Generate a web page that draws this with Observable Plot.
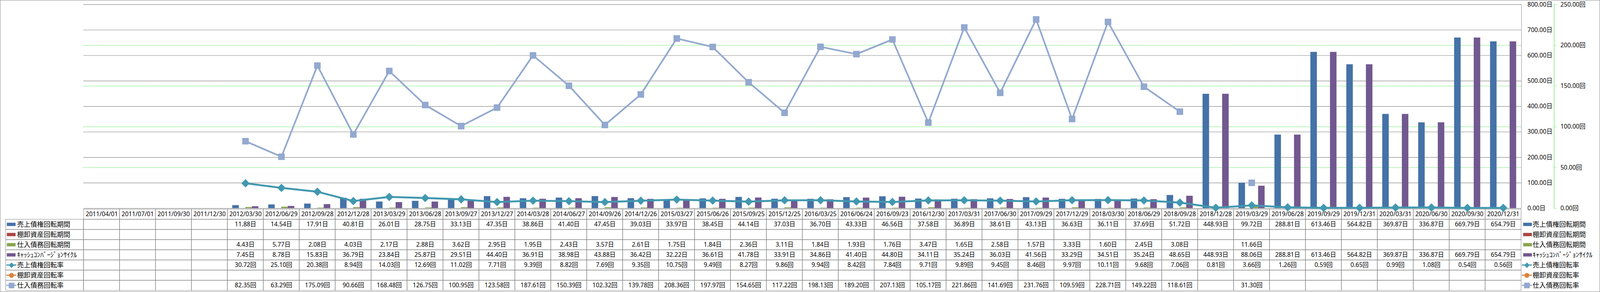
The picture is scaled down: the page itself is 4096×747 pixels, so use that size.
<!DOCTYPE html>
<html><head><meta charset="utf-8">
<script src="https://cdn.jsdelivr.net/npm/d3@7"></script>
<script src="https://cdn.jsdelivr.net/npm/@observablehq/plot@0.6"></script>
<style>
html,body{margin:0;padding:0;background:#fff;}
#wrap{position:relative;width:4096px;height:747px;overflow:hidden;background:#fff;}
#chart{position:absolute;left:0;top:0;z-index:2;}
#table{position:absolute;left:0;z-index:1;}
#border{position:absolute;left:0;top:0;width:4096px;height:747px;box-sizing:border-box;border:1px solid #888;z-index:3;pointer-events:none;}
</style></head><body>
<div id="wrap"><div id="table"></div><div id="chart"></div><div id="border"></div></div>
<script>
// ---------------- data ----------------
const dates = ["2011/04/01","2011/07/01","2011/09/30","2011/12/30",
  "2012/03/30","2012/06/29","2012/09/28","2012/12/28",
  "2013/03/29","2013/06/28","2013/09/27","2013/12/27",
  "2014/03/28","2014/06/27","2014/09/26","2014/12/26",
  "2015/03/27","2015/06/26","2015/09/25","2015/12/25",
  "2016/03/25","2016/06/24","2016/09/23","2016/12/30",
  "2017/03/31","2017/06/30","2017/09/29","2017/12/29",
  "2018/03/30","2018/06/29","2018/09/28","2018/12/28",
  "2019/03/29","2019/06/28","2019/09/29","2019/12/31",
  "2020/03/31","2020/06/30","2020/09/30","2020/12/31"];

const seriesNames = ["売上債権回転期間","棚卸資産回転期間","仕入債務回転期間","ｷｬｯｼｭｺﾝﾊﾞｰｼﾞｮﾝｻｲｸﾙ","売上債権回転率","棚卸資産回転率","仕入債務回転率"];
const seriesUnits = ["日","日","日","日","回","回","回"];
const seriesColors = ["#4572A7","#AA4643","#89A54E","#71588F","#4198AF","#DB843D","#93A9CF"];

const arDays = [null,null,null,null,
  11.88,14.54,17.91,40.81, 26.01,28.75,33.13,47.35, 38.86,41.40,47.45,39.03,
  33.97,38.45,44.14,37.03, 36.70,43.33,46.56,37.58, 36.89,38.61,43.13,36.63,
  36.11,37.69,51.72,448.93, 99.72,288.81,613.46,564.82, 369.87,336.87,669.79,654.79];
const invDays = [null,null,null,null, null,null,null,null, null,null,null,null, null,null,null,null,
  null,null,null,null, null,null,null,null, null,null,null,null, null,null,null,null,
  null,null,null,null, null,null,null,null];
const apDays = [null,null,null,null,
  4.43,5.77,2.08,4.03, 2.17,2.88,3.62,2.95, 1.95,2.43,3.57,2.61,
  1.75,1.84,2.36,3.11, 1.84,1.93,1.76,3.47, 1.65,2.58,1.57,3.33,
  1.60,2.45,3.08,null, 11.66,null,null,null, null,null,null,null];
const cccDays = [null,null,null,null,
  7.45,8.78,15.83,36.79, 23.84,25.87,29.51,44.40, 36.91,38.98,43.88,36.42,
  32.22,36.61,41.78,33.91, 34.86,41.40,44.80,34.11, 35.24,36.03,41.56,33.29,
  34.51,35.24,48.65,448.93, 88.06,288.81,613.46,564.82, 369.87,336.87,669.79,654.79];
const arTurn = [null,null,null,null,
  30.72,25.10,20.38,8.94, 14.03,12.69,11.02,7.71, 9.39,8.82,7.69,9.35,
  10.75,9.49,8.27,9.86, 9.94,8.42,7.84,9.71, 9.89,9.45,8.46,9.97,
  10.11,9.68,7.06,0.81, 3.66,1.26,0.59,0.65, 0.99,1.08,0.54,0.56];
const invTurn = [null,null,null,null, null,null,null,null, null,null,null,null, null,null,null,null,
  null,null,null,null, null,null,null,null, null,null,null,null, null,null,null,null,
  null,null,null,null, null,null,null,null];
const apTurn = [null,null,null,null,
  82.35,63.29,175.09,90.66, 168.48,126.75,100.95,123.58, 187.61,150.39,102.32,139.78,
  208.36,197.97,154.65,117.22, 198.13,189.20,207.13,105.17, 221.86,141.69,231.76,109.59,
  228.71,149.22,118.61,null, 31.30,null,null,null, null,null,null,null];

const dayTicks = [0,100,200,300,400,500,600,700,800];
const turnTicks = [0,50,100,150,200,250];

// ---------------- layout ----------------
const S = 0.697;
const W = 4096, H = 747;
const mL = 306*S, mR = (5876-5587)*S, mT = 16*S;
const chartH = 764*S;
const frameW = W - mL - mR;
const bw = frameW / dates.length;
const barW = bw * 24/132;
const groupStart = (bw - 4*barW)/2;
const turnToDays = dayTicks[dayTicks.length-1] / turnTicks[turnTicks.length-1];
const green = "#1fe01f";
const gridGray = "#858585";
const font = "'Noto Sans','Noto Sans CJK JP',sans-serif";
const cjk = "'Noto Sans CJK JP','Noto Sans',sans-serif";

const allValues = [arDays, invDays, apDays, cccDays, arTurn, invTurn, apTurn];
const series = allValues.map((vals, k) => dates.map((date, i) => ({date, k, value: vals[i]})));
const lineY = d => d.value == null ? NaN : d.value * turnToDays;

// ---------------- chart ----------------
const barMarks = [0,1,2,3].map(k => Plot.barY(series[k].filter(d => d.value != null), {
  x: "date", y: "value", fill: seriesColors[k],
  insetLeft: groupStart + k*barW, insetRight: bw - groupStart - (k+1)*barW
}));

const lineSpecs = [
  {k: 4, symbol: "diamond2", r: 9.6, sw: 7*S},
  {k: 5, symbol: "circle", r: 6.5, sw: 6*S},
  {k: 6, symbol: "square", r: 8.8, sw: 6*S}
];
const lineMarks = lineSpecs.flatMap(({k, symbol, r, sw}) => [
  Plot.line(series[k], {x: "date", y: lineY, stroke: seriesColors[k], strokeWidth: sw, strokeLinejoin: "round"}),
  Plot.dot(series[k].filter(d => d.value != null), {x: "date", y: lineY, symbol, r, fill: seriesColors[k], stroke: k === 6 ? "#8ea4cc" : "none", strokeWidth: 1})
]);

const chart = Plot.plot({
  width: W, height: chartH,
  marginLeft: mL, marginRight: mR, marginTop: mT, marginBottom: 0,
  x: {type: "band", domain: dates, padding: 0, axis: null},
  y: {domain: [0, 800]},
  style: {fontFamily: font, fontSize: "15.5px", background: "transparent", overflow: "visible", color: "#000"},
  marks: [
    Plot.gridY(dayTicks, {stroke: gridGray, strokeOpacity: 1, strokeWidth: 1.1}),
    Plot.gridY(turnTicks.slice(1, -1).map(t => t*turnToDays), {stroke: green, strokeOpacity: 1, strokeWidth: 1, strokeDasharray: "2.5,1.6"}),
    Plot.frame({anchor: "right", stroke: gridGray, strokeWidth: 1}),
    Plot.frame({anchor: "right", dx: (5707-5587)*S, stroke: green, strokeWidth: 1, strokeDasharray: "2.5,1.6"}),
    Plot.axisY({anchor: "right", ticks: dayTicks, tickFormat: d => d.toFixed(2) + "日", tickSize: 0, tickPadding: 22*S, label: null, fontSize: 15.5}),
    Plot.axisY({anchor: "right", dx: (5707-5587)*S, ticks: turnTicks.map(t => t*turnToDays), tickFormat: d => (d/turnToDays).toFixed(2) + "回",
      tickSize: 8*S, tickPadding: 15*S, stroke: green, strokeDasharray: "2.5,1.6", strokeOpacity: 1, label: null, fontSize: 15.5}),
    ...barMarks,
    ...lineMarks
  ]
});
document.getElementById("chart").appendChild(chart);

// ---------------- table ----------------
const dateRow = "__date__";
const rowKeys = [dateRow, ...seriesNames];
const rowH = 38.1*S;
const tableH = H - chartH;
const cellsAll = rowKeys.flatMap(row => dates.map(date => ({date, row})));
const valueCells = seriesNames.flatMap((name, k) => dates.map((date, i) => ({date, row: name, v: allValues[k][i], u: seriesUnits[k]}))).filter(c => c.v != null);
const legendRows = seriesNames.map((name, k) => ({name, k}));
const barLegend = legendRows.filter(d => d.k < 4);
const lineLegend = legendRows.filter(d => d.k >= 4);

const legendLeftX = (306-20.7)*S;
const symL0 = (306-25)*S, symL1 = (306-57)*S;      // bar symbols, left legend
const lnL0 = (306-23)*S, lnL1 = (306-60)*S;        // line symbols, left legend
const symR0 = (5594-5587)*S, symR1 = (5626-5587)*S; // right legend
const lnR0 = (5589-5587)*S, lnR1 = (5626-5587)*S;
const barSymInset = (rowH - 13*S)/2;
const lineSymInset = (rowH - 5*S)/2;

const legendDots = (anchorSide, dx) => lineSpecs.map(({k, symbol}) => Plot.dot(lineLegend.filter(d => d.k === k), {
  y: "name", frameAnchor: anchorSide, dx, symbol,
  r: symbol === "diamond2" ? 6.2 : symbol === "circle" ? 6.3 : 7.2,
  fill: seriesColors[k], stroke: k === 6 ? "#8ea4cc" : "none"
}));

const table = Plot.plot({
  width: W, height: tableH,
  marginLeft: mL, marginRight: mR, marginTop: 0, marginBottom: tableH - 8*rowH,
  x: {type: "band", domain: dates, padding: 0, axis: null},
  y: {type: "band", domain: rowKeys, padding: 0, axis: null},
  style: {fontFamily: font, fontSize: "15.5px", background: "transparent", overflow: "visible", color: "#000"},
  marks: [
    Plot.cell(cellsAll, {x: "date", y: "row", fill: "none", stroke: gridGray, strokeWidth: 1}),
    Plot.cell(legendRows, {y: "name", fill: "none", stroke: gridGray, strokeWidth: 1, insetLeft: -legendLeftX, insetRight: frameW}),
    Plot.text(dates, {x: d => d, y: () => dateRow, text: d => d, fontSize: 15.5}),
    Plot.text(valueCells, {x: "date", y: "row", text: c => c.v.toFixed(2) + c.u, fontSize: 15.5}),
    // left legend
    Plot.cell(barLegend, {y: "name", fill: d => seriesColors[d.k], insetLeft: -symL0, insetRight: frameW + symL1, insetTop: barSymInset, insetBottom: barSymInset}),
    Plot.cell(lineLegend, {y: "name", fill: d => seriesColors[d.k], insetLeft: -lnL0, insetRight: frameW + lnL1, insetTop: lineSymInset, insetBottom: lineSymInset}),
    ...legendDots("left", -(306-41.5)*S),
    Plot.text(legendRows, {y: "name", text: "name", frameAnchor: "left", textAnchor: "start", dx: -(306-62)*S, fontFamily: cjk, fontSize: 17}),
    // right legend
    Plot.cell(barLegend, {y: "name", fill: d => seriesColors[d.k], insetLeft: frameW + symR0, insetRight: -symR1, insetTop: barSymInset, insetBottom: barSymInset}),
    Plot.cell(lineLegend, {y: "name", fill: d => seriesColors[d.k], insetLeft: frameW + lnR0, insetRight: -lnR1, insetTop: lineSymInset, insetBottom: lineSymInset}),
    ...legendDots("right", (5607-5587)*S),
    Plot.text(legendRows, {y: "name", text: "name", frameAnchor: "right", textAnchor: "start", dx: (5628-5587)*S, fontFamily: cjk, fontSize: 17})
  ]
});
const tdiv = document.getElementById("table");
tdiv.style.top = chartH + "px";
tdiv.appendChild(table);
</script>
</body></html>
